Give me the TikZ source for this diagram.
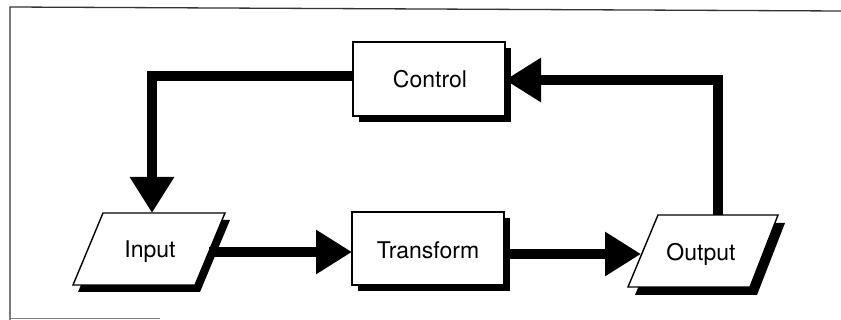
\documentclass[tikz,border=0pt]{standalone}
\usepackage{fontspec}
\setmainfont{TeX Gyre Heros}
\usetikzlibrary{arrows.meta}
\tikzset{
  boxshape/.style={draw=black, line width=1.4pt, fill=white},
  shadowshape/.style={fill=black},
  label/.style={inner sep=0pt, font=\fontsize{23}{27}\selectfont},
  flow/.style={line width=10pt, -{Triangle[length=36pt,width=42pt]}},
  frameline/.style={line width=1.3pt, draw=black!80},
}
\begin{document}
\begin{tikzpicture}[x=1pt,y=-1pt]
\useasboundingbox (0,0) rectangle (841,320);
% frame
\draw[frameline] (10,320) -- (10,7) -- (841,11);
\draw[line width=1pt, draw=black!50] (10,319) -- (160,319);

% Control box
\fill[shadowshape] (359,48) rectangle (511,122);
\draw[boxshape] (353,42) rectangle (505,116);
\node[label] (control) at (430,79) {Control};
\coordinate (controlE) at (505,80);
\coordinate (controlW) at (353,76);

% Transform box
\fill[shadowshape] (358,218) rectangle (510,291);
\draw[boxshape] (352,212) rectangle (504,285);
\node[label] (transform) at (428,250) {Transform};
\coordinate (transformW) at (352,252);
\coordinate (transformE) at (504,254);

% Input parallelogram
\fill[shadowshape] (108,220) -- (230,220) -- (200,292) -- (78,292) -- cycle;
\draw[boxshape] (103,213) -- (225,213) -- (195,285) -- (73,285) -- cycle;
\node[label] (input) at (150,252) {Input};
\coordinate (inputE) at (209,252);
\coordinate (inputN) at (152,213);

% Output parallelogram
\fill[shadowshape] (665,223) -- (785,223) -- (757,295) -- (635,295) -- cycle;
\draw[boxshape] (658,215) -- (778,215) -- (750,287) -- (628,287) -- cycle;
\node[label] (output) at (701,254) {Output};
\coordinate (outputW) at (641,254);
\coordinate (outputN) at (718,215);

% connectors
\draw[flow] (inputE) -- (transformW);
\draw[flow] (transformE) -- (outputW);
\draw[flow] (outputN) -- (outputN |- controlE) -- (controlE);
\draw[flow] (controlW) -- (inputN |- controlW) -- (inputN);
\end{tikzpicture}
\end{document}
